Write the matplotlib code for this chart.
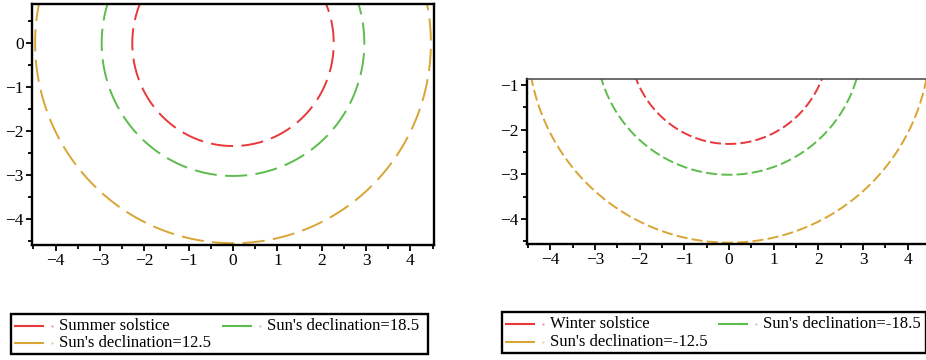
import numpy as np
import matplotlib
matplotlib.use("Agg")
import matplotlib.pyplot as plt
from matplotlib.lines import Line2D
from matplotlib.patches import Rectangle

plt.rcParams["font.family"] = ["Liberation Serif", "DejaVu Serif"]
plt.rcParams["lines.scale_dashes"] = False

COLORS = ["#e8383a", "#5cbc4c", "#d9a534"]

# semi-axes (x, y) of each shadow curve
left_labels = ["Summer solstice", "Sun's declination=18.5", "Sun's declination=12.5"]
left_ax = [2.27, 2.96, 4.46]
left_by = [2.34, 3.02, 4.55]

right_labels = ["Winter solstice", "Sun's declination=-18.5", "Sun's declination=-12.5"]
right_ax = [2.24, 2.98, 4.50]
right_by = [2.32, 3.01, 4.53]

W, H = 926, 360
fig = plt.figure(figsize=(W / 100, H / 100), dpi=100)


def fx(px):
    return px / W


def fy(py):
    return 1 - py / H


def draw_panel(ax, xs, ys, dashes):
    t = np.linspace(-np.pi, np.pi, 721)
    for a, b, c in zip(xs, ys, COLORS):
        ax.plot(a * np.sin(t), -b * np.cos(t), color=c, lw=1.4,
                dashes=dashes, dash_capstyle="butt")
    ax.set_xticks(range(-4, 5))
    ax.set_xticks(np.arange(-4.5, 4.6, 1.0), minor=True)
    ax.tick_params(which="major", direction="out", length=4, width=1.3,
                   labelsize=12.5, pad=2)
    ax.tick_params(which="minor", direction="out", length=3, width=1.3)
    ax.set_facecolor("white")


# left panel
axL = fig.add_axes([fx(32), fy(245), fx(434 - 32), fy(4) - fy(245)])
draw_panel(axL, left_ax, left_by, (16, 6))
axL.set_xlim(-4.53, 4.53)
axL.set_ylim(-4.59, 0.89)
axL.set_yticks(range(-4, 1))
axL.set_yticks(np.arange(-4.5, 0.6, 1.0), minor=True)
for s in axL.spines.values():
    s.set_linewidth(1.7)
    s.set_color("black")

# right panel (cut at the right edge of the picture)
axR = fig.add_axes([fx(527), fy(244), fx(931 - 527), fy(79) - fy(244)])
draw_panel(axR, right_ax, right_by, (8, 3))
axR.set_xlim(-4.52, 4.52)
axR.set_ylim(-4.56, -0.866)
axR.set_yticks(range(-4, 0))
axR.set_yticks(np.arange(-4.5, -1.4, 1.0), minor=True)
for k, s in axR.spines.items():
    s.set_linewidth(1.7)
    s.set_color("black")
axR.spines["top"].set_linewidth(1.1)
axR.spines["top"].set_color("#444444")
axR.spines["right"].set_visible(False)


def draw_legend(box, rows, labels):
    x0, y0, x1, y1 = box
    fig.add_artist(Rectangle((fx(x0), fy(y1)), fx(x1 - x0), fy(y0) - fy(y1),
                             transform=fig.transFigure, fill=False,
                             edgecolor="black", lw=1.7))
    for (lx, ly), lab, c in zip(rows, labels, COLORS):
        fig.add_artist(Line2D([fx(lx), fx(lx + 28)], [fy(ly), fy(ly)],
                              transform=fig.transFigure, color=c, lw=1.5))
        fig.add_artist(Line2D([fx(lx + 37)], [fy(ly)], transform=fig.transFigure,
                              color=c, marker="o", markersize=0.6, lw=0,
                              alpha=0.5))
        fig.text(fx(lx + 44), fy(ly), lab, fontsize=12, va="center", ha="left")


draw_legend((11, 314, 428, 354), [(15, 326), (223, 326), (15, 343)], left_labels)
draw_legend((502, 312, 926, 353), [(506, 324), (719, 324), (506, 342)], right_labels)

fig.savefig("out.png", dpi=100)
